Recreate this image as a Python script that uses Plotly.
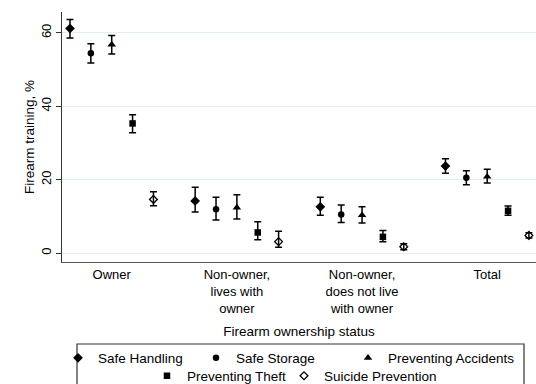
import plotly.graph_objects as go

# ---- data ----
categories = ["Owner", "Non-owner,<br>lives with<br>owner",
              "Non-owner,<br>does not live<br>with owner", "Total"]
series_names = ["Safe Handling", "Safe Storage", "Preventing Accidents",
                "Preventing Theft", "Suicide Prevention"]

safe_handling = [61.2, 14.2, 12.6, 23.7]
safe_handling_lo = [58.6, 11.2, 10.3, 21.7]
safe_handling_hi = [63.6, 17.9, 15.2, 25.7]

safe_storage = [54.4, 11.9, 10.5, 20.5]
safe_storage_lo = [51.8, 9.0, 8.3, 18.6]
safe_storage_hi = [57.0, 15.2, 13.1, 22.4]

preventing_accidents = [56.8, 12.4, 10.3, 20.8]
preventing_accidents_lo = [54.2, 9.3, 8.2, 19.1]
preventing_accidents_hi = [59.3, 15.9, 12.6, 22.8]

preventing_theft = [35.3, 5.6, 4.4, 11.5]
preventing_theft_lo = [32.8, 3.6, 3.1, 10.3]
preventing_theft_hi = [37.7, 8.5, 6.1, 12.8]

suicide_prevention = [14.6, 3.1, 1.7, 4.8]
suicide_prevention_lo = [12.9, 1.6, 0.9, 4.1]
suicide_prevention_hi = [16.7, 5.9, 2.5, 5.5]

y_ticks = [0, 20, 40, 60]

values = [safe_handling, safe_storage, preventing_accidents, preventing_theft, suicide_prevention]
lows = [safe_handling_lo, safe_storage_lo, preventing_accidents_lo, preventing_theft_lo, suicide_prevention_lo]
highs = [safe_handling_hi, safe_storage_hi, preventing_accidents_hi, preventing_theft_hi, suicide_prevention_hi]

# ---- style ----
FONT = "Liberation Sans, Arial, Helvetica, sans-serif"
symbols = ["diamond", "circle", "triangle-up", "square", "diamond-open"]
sizes = [7.5, 6.5, 7.5, 6.5, 6]
W, H = 536, 384
ML, MR, MT, MB = 62, 0, 12, 122
PW, PH = W - ML - MR, H - MT - MB

def px_x(px):
    return (px - ML) / PW

def px_y(py):
    return (H - MB - py) / PH

# legend item placements (left x of item, center y) in pixels
legend_pos = [(58, 358), (196, 358), (348, 358), (147, 376), (284, 376)]

n_series = len(series_names)
group_step = n_series + 1

fig = go.Figure()
for s, name in enumerate(series_names):
    xs = [1 + g * group_step + s for g in range(len(categories))]
    v = values[s]
    plus = [h - m for h, m in zip(highs[s], v)]
    minus = [m - l for m, l in zip(v, lows[s])]
    lname = "legend" if s == 0 else f"legend{s+1}"
    fig.add_trace(go.Scatter(
        x=xs, y=v, mode="markers", name=name, legend=lname,
        marker=dict(symbol=symbols[s], size=sizes[s], color="black",
                    line=dict(color="black", width=1.3 if symbols[s].endswith("open") else 0)),
        error_y=dict(type="data", symmetric=False, array=plus, arrayminus=minus,
                     color="black", thickness=1.5, width=3.5),
    ))

tick_pos = [1 + g * group_step + (n_series - 1) / 2 for g in range(len(categories))]

legends = {}
for s in range(n_series):
    key = "legend" if s == 0 else f"legend{s+1}"
    lx, ly = legend_pos[s]
    legends[key] = dict(
        x=px_x(lx), y=px_y(ly), xanchor="left", yanchor="middle",
        orientation="h", bgcolor="rgba(0,0,0,0)", borderwidth=0,
        font=dict(family=FONT, size=13.5, color="black"),
        itemwidth=30, tracegroupgap=0,
    )

fig.update_layout(
    width=W, height=H,
    margin=dict(l=ML, r=MR, t=MT, b=MB, autoexpand=False),
    paper_bgcolor="white", plot_bgcolor="white",
    font=dict(family=FONT, size=13, color="black"),
    showlegend=True,
    **legends,
    xaxis=dict(
        range=[0.6165, 0.6165 + PW / 20.86],
        tickvals=tick_pos, ticktext=categories,
        ticks="", showgrid=False, zeroline=False,
        showline=True, linecolor="#555555", linewidth=1.2,
        tickfont=dict(family=FONT, size=13, color="black"),
        title=dict(text="Firearm ownership status", standoff=12,
                   font=dict(family=FONT, size=13.5, color="black")),
        automargin=False, fixedrange=True,
    ),
    yaxis=dict(
        range=[-2.45, 65.67],
        tickvals=y_ticks, tickangle=-90,
        ticks="outside", ticklen=5, tickcolor="#333333", tickwidth=1,
        showgrid=True, gridcolor="#e3eef0", gridwidth=1, zeroline=False,
        showline=True, linecolor="#333333", linewidth=1.2,
        tickfont=dict(family=FONT, size=13, color="black"),
        title=dict(text="Firearm training, %", standoff=0,
                   font=dict(family=FONT, size=13.5, color="black")),
        automargin=False, fixedrange=True,
    ),
    shapes=[dict(type="rect", xref="paper", yref="paper",
                 x0=px_x(77), x1=px_x(524), y0=px_y(386), y1=px_y(344),
                 line=dict(color="#333333", width=1.2), fillcolor="rgba(0,0,0,0)")],
)

fig.write_html("out.html")
